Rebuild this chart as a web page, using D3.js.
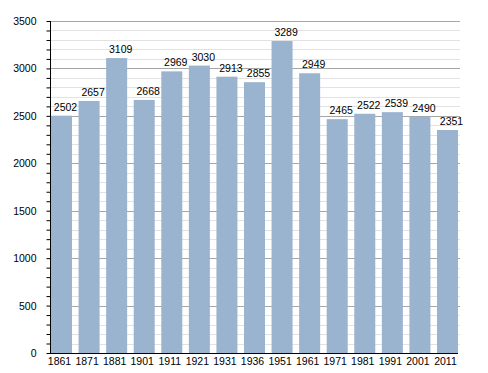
<!DOCTYPE html>
<html>
<head>
<meta charset="utf-8">
<script src="https://cdn.jsdelivr.net/npm/d3@7"></script>
<style>
  body { margin: 0; background: #fff; }
  svg text { font-family: "Liberation Sans", Arial, sans-serif; font-size: 10.5px; fill: #000; }
</style>
</head>
<body>
<svg width="488" height="373"></svg>
<script>
"use strict";
var years = ['1861','1871','1881','1901','1911','1921','1931','1936','1951','1961','1971','1981','1991','2001','2011'];
var population = [2502,2657,3109,2668,2969,3030,2913,2855,3289,2949,2465,2522,2539,2490,2351];
var yTicks = [0,500,1000,1500,2000,2500,3000,3500];

var svg = d3.select("svg");
var plotLeft = 50, plotTop = 21, plotBottom = 353, plotRight = 460;

var x = d3.scaleBand().domain(years).range([51, 458]).paddingInner(0.238).paddingOuter(0);
var y = d3.scaleLinear().domain([0, 3500]).range([plotBottom, plotTop]);

// minor grid every 100
svg.append("g").selectAll("line")
  .data(d3.range(100, 3600, 100).filter(v => v % 500 !== 0))
  .enter().append("line")
  .attr('x1', plotLeft).attr('x2', plotRight)
  .attr('y1', d => Math.round(y(d)) + 0.5).attr('y2', d => Math.round(y(d)) + 0.5)
  .attr('stroke', '#e2e2e2');
// major grid
svg.append("g").selectAll("line")
  .data(yTicks.slice(1))
  .enter().append("line")
  .attr('x1', plotLeft).attr('x2', plotRight)
  .attr('y1', d => Math.round(y(d)) + 0.5).attr('y2', d => Math.round(y(d)) + 0.5)
  .attr('stroke', '#a6a6a6');

// bars
svg.append("g").selectAll("rect")
  .data(population)
  .enter().append("rect")
  .attr('x', (d, i) => x(years[i]))
  .attr('width', x.bandwidth())
  .attr('y', d => y(d))
  .attr('height', d => plotBottom - y(d))
  .attr('fill', '#9ab3cf');

// value labels (sit a little right of bar centre)
svg.append("g").selectAll("text")
  .data(population)
  .enter().append("text")
  .attr('x', (d, i) => x(years[i]) + x.bandwidth() / 2 + 4)
  .attr('y', d => y(d) - 5)
  .attr('text-anchor', 'middle')
  .text(d => d);

// y axis with minor ticks
var yAxis = svg.append("g").attr('transform', 'translate(' + (plotLeft + 0.5) + ',0)');
yAxis.call(d3.axisLeft(y).tickValues(d3.range(0, 3600, 100)).tickSize(4).tickFormat(''));
yAxis.select('.domain').remove();
yAxis.append("line").attr('y1', plotTop).attr('y2', plotBottom).attr('stroke', '#000');
yAxis.selectAll("text.lbl")
  .data(yTicks)
  .enter().append("text").attr('class', 'lbl')
  .attr('x', -14)
  .attr('y', d => y(d) + 4)
  .attr('text-anchor', 'end')
  .text(d => d);

// x axis
svg.append("line")
  .attr('x1', plotLeft).attr('x2', 458)
  .attr('y1', plotBottom + 0.5).attr('y2', plotBottom + 0.5)
  .attr('stroke', '#000');
svg.append("g").selectAll("text")
  .data(years)
  .enter().append("text")
  .attr('x', d => x(d) + x.bandwidth() / 2 - 2)
  .attr('y', 365)
  .attr('text-anchor', 'middle')
  .text(d => d);
</script>
</body>
</html>
